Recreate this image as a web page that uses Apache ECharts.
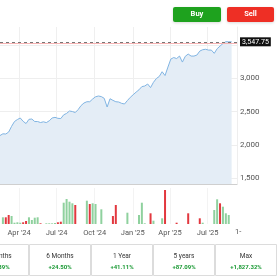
<!DOCTYPE html>
<html>
<head>
<meta charset="utf-8">
<script src="https://cdn.jsdelivr.net/npm/echarts@6/dist/echarts.min.js"></script>
<style>
  html, body { margin: 0; padding: 0; background: #fff; }
  #chart { width: 280px; height: 280px; }
</style>
</head>
<body>
<div id="chart"></div>
<script>
// weekly closes, first week = 15 Feb 2024
const firstWeek = new Date(2024, 1, 15);
const axisStart = new Date(2024, 1, 15);
const axisEnd = new Date(2025, 8, 10);

const closes = [
  2142, 2168, 2165, 2195, 2280, 2352, 2382, 2405, 2355, 2322,
  2385, 2390, 2352, 2352, 2337, 2348, 2336, 2363, 2405, 2415,
  2400, 2397, 2453, 2474, 2510, 2502, 2487, 2532, 2592, 2630,
  2649, 2649, 2690, 2723, 2735, 2726, 2700, 2570, 2694, 2670,
  2649, 2645, 2625, 2615, 2667, 2715, 2754, 2793, 2828, 2876,
  2885, 2915, 2861, 2940, 2997, 3028, 3099, 3042, 3169, 3289,
  3312, 3297, 3334, 3244, 3331, 3364, 3334, 3334, 3349, 3409,
  3429, 3436, 3424, 3424, 3375, 3444, 3484, 3522, 3550, 3548,
  3547.75
];

// weekly volume (0 = no bar), direction 1 = up, -1 = down
const volumes = [
  0, 670, 670, 900, 800, 130, 170, 130, 170, 300,
  670, 400, 630, 670, 70, 0, 70, 70, 70, 100,
  170, 230, 2130, 2500, 2230, 2070, 1900, 0, 0, 0,
  2330, 2000, 2070, 2000, 0, 1470, 0, 0, 0, 800,
  1900, 0, 0, 0, 1130, 0, 0, 0, 900, 2130,
  70, 0, 1070, 330, 0, 0, 570, 3400, 0, 0,
  0, 130, 0, 0, 0, 1070, 0, 0, 0, 570,
  130, 0, 0, 0, 1400, 2470, 2070, 1730, 1070, 900,
  0
];
const volumeDir = [
  0, 1, -1, -1, 1, 1, 1, 1, -1, -1,
  1, 1, 1, 1, -1, 0, 1, 1, 1, 1,
  -1, -1, 1, 1, 1, 1, -1, 0, 0, 0,
  1, -1, 1, 1, 0, 1, 0, 0, 0, -1,
  -1, 0, 0, 0, 1, 0, 0, 0, 1, 1,
  1, 0, -1, 1, 0, 0, 1, -1, 0, 0,
  0, -1, 0, 0, 0, -1, 0, 0, 0, -1,
  1, 0, 0, 0, 1, 1, -1, 1, 1, 1,
  0
];

const lastPrice = 3547.75;
const prevClose = 3520;

const periods = ['3 Months', '6 Months', '1 Year', '5 years', 'Max'];
const periodReturns = ['+11.39%', '+24.50%', '+41.11%', '+87.09%', '+1,827.32%'];

const MONTHS = ['Jan', 'Feb', 'Mar', 'Apr', 'May', 'Jun', 'Jul', 'Aug', 'Sep', 'Oct', 'Nov', 'Dec'];
const FONT = 'Roboto, "Liberation Sans", sans-serif';

function dayKey(d) {
  return d.getFullYear() + '-' + String(d.getMonth() + 1).padStart(2, '0') + '-' + String(d.getDate()).padStart(2, '0');
}
function weekKey(k) {
  const d = new Date(firstWeek);
  d.setDate(d.getDate() + 7 * k);
  return dayKey(d);
}

// 按天生成类目轴
const days = [];
for (let d = new Date(axisStart); d <= axisEnd; d.setDate(d.getDate() + 1)) days.push(dayKey(d));

const priceByDay = {};
const volByDay = {};
closes.forEach((v, k) => { priceByDay[weekKey(k)] = v; });
volumes.forEach((v, k) => { if (v) volByDay[weekKey(k)] = k; });

const priceData = days.map(d => (d in priceByDay ? priceByDay[d] : null));
const volumeData = days.map(d => {
  if (!(d in volByDay)) return null;
  const k = volByDay[d];
  return { value: volumes[k], itemStyle: { color: volumeDir[k] > 0 ? '#8fd19e' : '#e2383f' } };
});

// 季度首日显示标签和竖向网格线
function isQuarterStart(idx, val) {
  const m = +val.slice(5, 7), dd = +val.slice(8, 10);
  return dd === 1 && (m === 1 || m === 4 || m === 7 || m === 10);
}
function fmtMonth(val) {
  return MONTHS[+val.slice(5, 7) - 1] + " '" + val.slice(2, 4);
}

// 按钮和收益表格（图形元素）
const graphics = [
  { type: 'rect', shape: { x: 173, y: 7, width: 48, height: 15, r: 2 },
    style: { fill: '#1ea21e', shadowBlur: 3, shadowColor: 'rgba(0,0,0,0.15)', shadowOffsetY: 1 } },
  { type: 'text', x: 197, y: 14.5,
    style: { text: 'Buy', fill: '#fff', font: 'bold 7.5px ' + FONT, align: 'center', verticalAlign: 'middle' } },
  { type: 'rect', shape: { x: 227, y: 7, width: 47, height: 15, r: 2 },
    style: { fill: '#ee2f25', shadowBlur: 3, shadowColor: 'rgba(0,0,0,0.15)', shadowOffsetY: 1 } },
  { type: 'text', x: 250.5, y: 14.5,
    style: { text: 'Sell', fill: '#fff', font: 'bold 7.5px ' + FONT, align: 'center', verticalAlign: 'middle' } },
  { type: 'text', x: 235, y: 232,
    style: { text: '1-', fill: '#555', font: '7.5px ' + FONT, verticalAlign: 'middle' } }
];
periods.forEach((p, i) => {
  const x0 = -33 + i * 62;
  graphics.push({ type: 'rect', shape: { x: x0 + 0.5, y: 244.5, width: 61, height: 31 },
    style: { fill: '#fff', stroke: '#dcdcdc', lineWidth: 1 } });
  graphics.push({ type: 'text', x: x0 + 31, y: 256.5,
    style: { text: p, fill: '#333', font: '6.5px ' + FONT, align: 'center', verticalAlign: 'middle' } });
  graphics.push({ type: 'text', x: x0 + 31, y: 267.5,
    style: { text: periodReturns[i], fill: '#1b9a35', font: 'bold 6px ' + FONT, align: 'center', verticalAlign: 'middle' } });
});

const chart = echarts.init(document.getElementById('chart'), null, { renderer: 'canvas' });
chart.setOption({
  animation: false,
  backgroundColor: '#fff',
  textStyle: { fontFamily: FONT },
  grid: [
    { left: 0, right: 43, top: 27, height: 157 },
    { left: 0, right: 43, top: 188, height: 36 }
  ],
  xAxis: [
    {
      type: 'category', gridIndex: 0, data: days, boundaryGap: false,
      axisLabel: { show: false, interval: isQuarterStart },
      axisTick: { show: false },
      axisLine: { show: true, lineStyle: { color: '#cfcfcf' } },
      splitLine: { show: true, interval: isQuarterStart, lineStyle: { color: '#efefef' } }
    },
    {
      type: 'category', gridIndex: 1, data: days, boundaryGap: false,
      axisLabel: { show: true, interval: isQuarterStart, formatter: fmtMonth, fontSize: 7.5, color: '#555', margin: 5 },
      axisTick: { show: false },
      axisLine: { show: false },
      splitLine: { show: true, interval: isQuarterStart, lineStyle: { color: '#f3f3f3' } }
    }
  ],
  yAxis: [
    {
      type: 'value', gridIndex: 0, position: 'right', min: 1415, max: 3770, splitNumber: 5,
      axisLine: { show: true, lineStyle: { color: '#eeeeee' } },
      axisTick: { show: false },
      axisLabel: {
        fontSize: 8, color: '#555', margin: 3, showMinLabel: false, showMaxLabel: false,
        formatter: v => (v === 3500 ? '' : v.toLocaleString('en-US'))
      },
      splitLine: { show: true, showMinLine: false, showMaxLine: false, lineStyle: { color: '#eeeeee' } }
    },
    {
      type: 'value', gridIndex: 1, min: 0, max: 3600, show: false,
      splitLine: { show: false }
    }
  ],
  series: [
    {
      type: 'line', xAxisIndex: 0, yAxisIndex: 0,
      data: priceData, connectNulls: true, symbol: 'none', smooth: false,
      lineStyle: { color: '#80b4e2', width: 1 },
      areaStyle: { color: '#e4edf6', opacity: 1 },
      markLine: {
        silent: true, symbol: 'none',
        data: [
          { yAxis: prevClose, lineStyle: { color: '#f6b3b3', type: 'solid', width: 1 }, label: { show: false } },
          {
            yAxis: lastPrice,
            lineStyle: { color: '#777', type: [3, 3], width: 1 },
            label: {
              show: true, position: 'end', distance: 3, formatter: '3,547.75',
              backgroundColor: '#111', color: '#fff', fontSize: 7, padding: [1, 2, 1, 2]
            }
          }
        ]
      }
    },
    {
      type: 'bar', xAxisIndex: 1, yAxisIndex: 1,
      data: volumeData, barWidth: 2
    }
  ],
  graphic: graphics
});
</script>
</body>
</html>
